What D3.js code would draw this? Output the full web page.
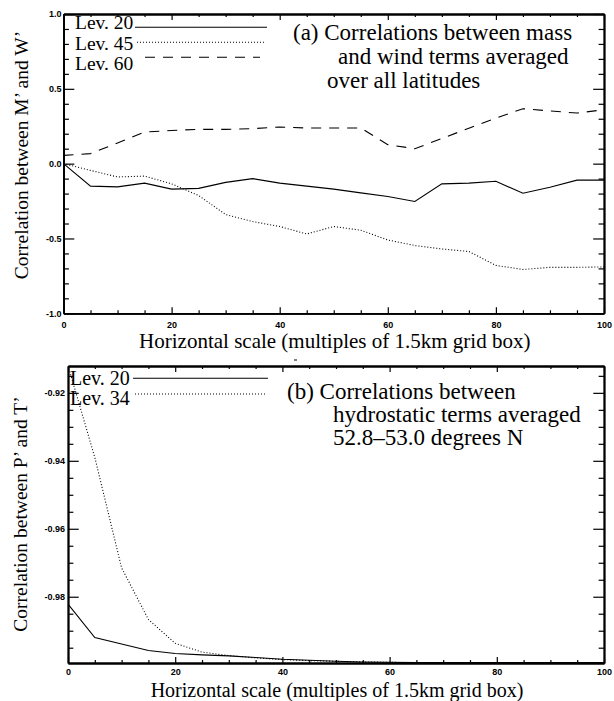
<!DOCTYPE html>
<html>
<head>
<meta charset="utf-8">
<script src="https://cdn.jsdelivr.net/npm/d3@7"></script>
<style>
body { margin: 0; background: #fff; }
svg { display: block; }
.serif { font-family: "Liberation Serif", "Times New Roman", serif; fill: #000; }
</style>
</head>
<body>
<svg width="614" height="701"></svg>
<script>
var svg = d3.select("svg");

// horizontal scale (multiples of 1.5km grid box)
var scaleX = [0, 5, 10, 15, 20, 25, 30, 35, 40, 45, 50, 55, 60, 65, 70, 75, 80, 85, 90, 95, 100];

// (a) correlations between M' and W'
var lev20a = [0.0, -0.15, -0.155, -0.13, -0.17, -0.165, -0.125, -0.10, -0.13, -0.15, -0.17,
              -0.195, -0.22, -0.253, -0.135, -0.13, -0.118, -0.198, -0.158, -0.11, -0.11];
var lev45a = [0.0, -0.045, -0.089, -0.083, -0.135, -0.213, -0.34, -0.387, -0.42, -0.47, -0.42,
              -0.445, -0.51, -0.547, -0.57, -0.587, -0.68, -0.707, -0.693, -0.693, -0.69];
var lev60a = [0.055, 0.067, 0.138, 0.211, 0.222, 0.229, 0.229, 0.234, 0.245, 0.238, 0.238,
              0.238, 0.127, 0.10, 0.168, 0.237, 0.305, 0.367, 0.352, 0.338, 0.36];

// (b) correlations between P' and T'
var lev20b = [-0.9822, -0.9920, -0.9939, -0.9958, -0.9967, -0.9971, -0.9974, -0.9979, -0.9984, -0.9987, -0.9990,
              -0.9992, -0.9993, -0.9994, -0.9994, -0.9994, -0.9994, -0.9994, -0.9994, -0.9994, -0.9994];
var lev34b = [-0.912, -0.939, -0.9715, -0.9867, -0.9937, -0.9963, -0.9973, -0.998, -0.9985, -0.9988, -0.999,
              -0.9992, -0.9993, -0.9994, -0.9994, -0.9994, -0.9994, -0.9994, -0.9994, -0.9994, -0.9994];

// ticks
var xMajor = [0, 20, 40, 60, 80, 100];
var xMinor = [5, 10, 15, 25, 30, 35, 45, 50, 55, 65, 70, 75, 85, 90, 95];
var yMajorA = [-1.0, -0.5, 0.0, 0.5, 1.0];
var yMinorA = [-0.9, -0.8, -0.7, -0.6, -0.4, -0.3, -0.2, -0.1, 0.1, 0.2, 0.3, 0.4, 0.6, 0.7, 0.8, 0.9];
var yMajorB = [-0.98, -0.96, -0.94, -0.92];
var yMinorB = [-0.995, -0.99, -0.985, -0.975, -0.97, -0.965, -0.955, -0.95, -0.945, -0.935, -0.93, -0.925, -0.915];

var xTitle = "Horizontal scale (multiples of 1.5km grid box)";

var DOT = "1,2", DASH = "10,8";

function panel(o) {
    var x = d3.scaleLinear().domain([0, 100]).range([o.left, o.right]);
    var y = d3.scaleLinear().domain(o.ydom).range([o.bottom, o.top]);
    var g = svg.append("g");
    var w = o.right - o.left, h = o.bottom - o.top;
    var tx = 0.02 * h, ty = 0.02 * w;   // IDL-ish tick lengths

    g.append("clipPath").attr("id", o.id)
        .append("rect").attr("x", o.left).attr("y", o.top).attr("width", w).attr("height", h);

    var line = d3.line().x(function(d, i) { return x(scaleX[i]); }).y(function(d) { return y(d); });
    o.series.forEach(function(s) {
        g.append("path")
            .attr("d", line(s.values))
            .attr("clip-path", "url(#" + o.id + ")")
            .attr("fill", "none")
            .attr("stroke", "#000")
            .attr("stroke-width", 1.1)
            .attr("stroke-dasharray", s.dash);
    });

    function ax(a, pos, vals, size, fmt, pad) {
        var gg = g.append("g").attr("transform", pos)
            .call(a.tickValues(vals).tickSize(size).tickSizeOuter(0).tickPadding(pad || 3).tickFormat(fmt));
        gg.selectAll(".domain").attr("stroke-width", 1.8);
        gg.selectAll(".tick line").attr("stroke-width", 1.2);
        gg.attr("font-family", "'Liberation Sans', Arial, sans-serif")
          .attr("font-weight", "bold").attr("font-size", 9);
        return gg;
    }
    var none = function() { return ""; };
    ax(d3.axisBottom(x), "translate(0," + o.bottom + ")", xMajor, -tx, function(d) { return d; }, o.xpad);
    ax(d3.axisBottom(x), "translate(0," + o.bottom + ")", xMinor, -tx / 2, none);
    ax(d3.axisTop(x), "translate(0," + o.top + ")", xMajor, -tx, none);
    ax(d3.axisTop(x), "translate(0," + o.top + ")", xMinor, -tx / 2, none);
    ax(d3.axisLeft(y), "translate(" + o.left + ",0)", o.yMajor, -ty, o.yfmt, o.ypad);
    ax(d3.axisLeft(y), "translate(" + o.left + ",0)", o.yMinor, -ty / 2, none);
    ax(d3.axisRight(y), "translate(" + o.right + ",0)", o.yMajor, -ty, none);
    ax(d3.axisRight(y), "translate(" + o.right + ",0)", o.yMinor, -ty / 2, none);

    // legend
    o.legend.forEach(function(l) {
        g.append("text").attr("class", "serif")
            .attr("x", o.legX).attr("y", l.ty)
            .attr("font-size", o.legSize)
            .text(l.name);
        g.append("line")
            .attr("x1", l.x1).attr("x2", l.x2).attr("y1", l.ly).attr("y2", l.ly)
            .attr("stroke", "#000").attr("stroke-width", 1.1)
            .attr("stroke-dasharray", l.dash);
    });

    // annotation
    o.note.forEach(function(n) {
        g.append("text").attr("class", "serif")
            .attr("x", n.x).attr("y", n.y).attr("font-size", 23)
            .text(n.t);
    });

    // axis titles
    g.append("text").attr("class", "serif")
        .attr("x", (o.left + o.right) / 2 + 1).attr("y", o.xtY)
        .attr("text-anchor", "middle").attr("font-size", o.xtSize)
        .text(xTitle);
    g.append("text").attr("class", "serif")
        .attr("transform", "translate(" + o.ytX + "," + o.ytY + ") rotate(-90)")
        .attr("text-anchor", "middle").attr("font-size", 19.5)
        .text(o.ytitle);
}

panel({
    id: "clipA", left: 63.5, right: 604, top: 14, bottom: 313.3,
    ydom: [-1, 1], yMajor: yMajorA, yMinor: yMinorA, ypad: 2, xpad: 8,
    yfmt: function(d) { return d.toFixed(1); },
    series: [
        { values: lev20a, dash: null },
        { values: lev45a, dash: DOT },
        { values: lev60a, dash: DASH }
    ],
    legX: 75, legSize: 19.5,
    legend: [
        { name: "Lev. 20", ty: 29, ly: 27.3, x1: 135, x2: 267, dash: null },
        { name: "Lev. 45", ty: 49.5, ly: 42.3, x1: 137, x2: 265, dash: DOT },
        { name: "Lev. 60", ty: 69.5, ly: 57.3, x1: 145, x2: 260, dash: DASH }
    ],
    note: [
        { t: "(a) Correlations between mass", x: 293, y: 39.5 },
        { t: "and wind terms averaged", x: 338, y: 63.5 },
        { t: "over all latitudes", x: 327, y: 87.5 }
    ],
    xtY: 348, xtSize: 21, ytX: 28, ytY: 155,
    ytitle: "Correlation between M\u2019 and W\u2019"
});

panel({
    id: "clipB", left: 68, right: 604, top: 366, bottom: 663,
    ydom: [-0.9995, -0.9121], yMajor: yMajorB, yMinor: yMinorB, ypad: 3, xpad: 6,
    yfmt: function(d) { return d.toFixed(2); },
    series: [
        { values: lev20b, dash: null },
        { values: lev34b, dash: DOT }
    ],
    legX: 70, legSize: 20,
    legend: [
        { name: "Lev. 20", ty: 385, ly: 378.3, x1: 133, x2: 268, dash: null },
        { name: "Lev. 34", ty: 405, ly: 394, x1: 135, x2: 267, dash: DOT }
    ],
    note: [
        { t: "(b) Correlations between", x: 287, y: 398.5 },
        { t: "hydrostatic terms averaged", x: 333, y: 421.5 },
        { t: "52.8\u201353.0 degrees N", x: 333, y: 444.5 }
    ],
    xtY: 696.5, xtSize: 20, ytX: 27, ytY: 514,
    ytitle: "Correlation between P\u2019 and T\u2019"
});

// stray little mark between the panels
svg.append("line").attr("x1", 294).attr("x2", 297).attr("y1", 360).attr("y2", 360)
    .attr("stroke", "#000").attr("stroke-width", 1);
</script>
</body>
</html>
